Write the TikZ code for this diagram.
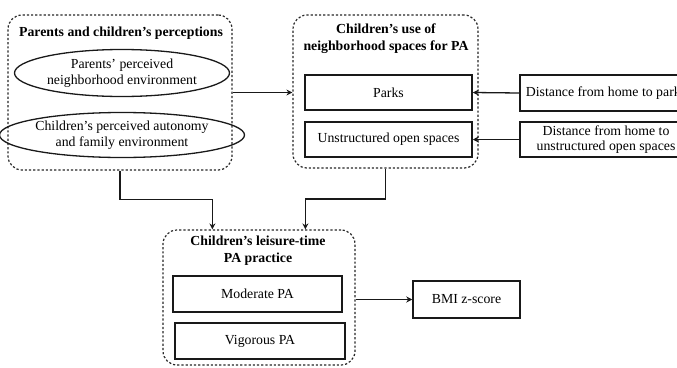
\documentclass[tikz,border=0pt]{standalone}
\usepackage{fontspec}
\setmainfont{Liberation Serif}
\usetikzlibrary{arrows.meta,shapes.geometric,calc}
\begin{document}
\begin{tikzpicture}[x=1pt,y=-1pt,
  every node/.style={font=\fontsize{13.8}{15.5}\selectfont, inner sep=0pt, align=center},
  grp/.style={draw=black!85, line width=1.2pt, dash pattern=on 2.2pt off 2pt, rounded corners=14pt},
  boxed/.style={draw=black!90, line width=1.5pt},
  oval/.style={draw=black!90, ellipse, line width=1.3pt},
  title/.style={font=\fontsize{13.8}{17}\selectfont\bfseries},
  arr/.style={draw=black!90, line width=1.3pt, -{Stealth[length=6pt,width=6pt]}}
]
\useasboundingbox (0,0) rectangle (677,367);
\clip (0,0) rectangle (677,367);

% perceptions group
\node[grp, minimum width=224pt, minimum height=155pt] (grpL) at (120,92.5) {};
\node[title] (tL) at (121,33) {Parents and children's perceptions};
\node[oval, minimum width=215pt, minimum height=47pt] (e1) at (122,73)
  {Parents' perceived\\neighborhood environment};
\node[oval, minimum width=215pt, minimum height=45pt] (e2) at (122,135)
  {Children's perceived autonomy\\and family environment};

% neighborhood spaces group
\node[grp, minimum width=185pt, minimum height=153pt] (grpM) at (385.5,91.5) {};
\node[title] (tM) at (386,39) {Children's use of\\neighborhood spaces for PA};
\node[boxed, minimum width=167pt, minimum height=35pt] (parks) at (388.5,92.5) {Parks};
\node[boxed, minimum width=167pt, minimum height=35pt] (uos) at (388.5,139.5) {Unstructured open spaces};

% distance boxes
\node[boxed, minimum width=172pt, minimum height=36pt] (d1) at (606,93) {Distance from home to parks};
\node[boxed, minimum width=172pt, minimum height=35pt] (d2) at (606,139.5)
  {Distance from home to\\unstructured open spaces};

% leisure-time PA group
\node[grp, minimum width=192pt, minimum height=135pt] (grpB) at (259,297.5) {};
\node[title] (tB) at (258,251) {Children's leisure-time\\PA practice};
\node[boxed, minimum width=169pt, minimum height=36pt] (mod) at (257.5,294) {Moderate PA};
\node[boxed, minimum width=170pt, minimum height=36pt] (vig) at (260,341) {Vigorous PA};

% outcome
\node[boxed, minimum width=107pt, minimum height=37pt] (bmi) at (466.5,299.5) {BMI z-score};

% connectors
\coordinate (inL) at ($(grpB.north west)+(50,0)$);
\coordinate (inM) at ($(grpB.north west)+(143,0)$);
\draw[arr] (grpL.east) -- (grpL.east -| grpM.west);
\draw[arr] (d1.west) -- (parks.east);
\draw[arr] (d2.west) -- (uos.east);
\draw[arr] (grpL.south) -- ++(0,29) -| (inL);
\draw[arr] (grpM.south) -- ++(0,30.5) -| (inM);
\draw[arr] (grpB.east |- bmi.west) -- (bmi.west);
\end{tikzpicture}
\end{document}
